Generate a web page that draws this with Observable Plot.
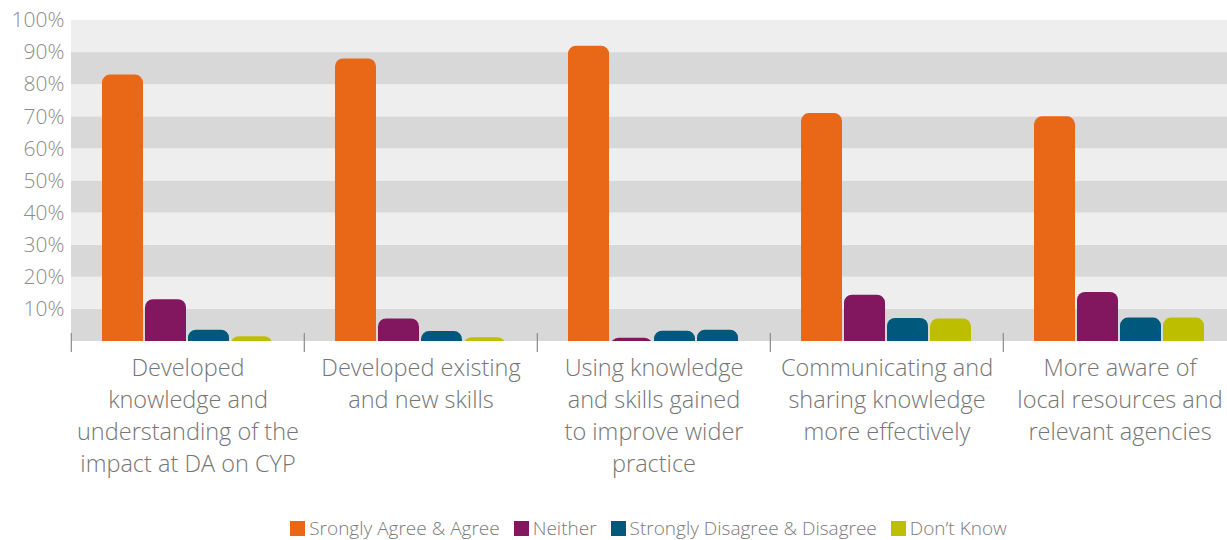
<!DOCTYPE html>
<html>
<head>
<meta charset="utf-8">
<script src="https://cdn.jsdelivr.net/npm/d3@7"></script>
<script src="https://cdn.jsdelivr.net/npm/@observablehq/plot@0.6"></script>
<style>
  html, body { margin: 0; padding: 0; background: #fff; overflow: hidden; }
  body { width: 1227px; height: 540px; font-family: "Open Sans", sans-serif; }
  #legend { display: flex; justify-content: center; gap: 14px; font-size: 19px; color: #7a7a7a; font-weight: 300; margin-left: 70px; margin-top: 15px; }
  #legend span.item { display: flex; align-items: center; }
  #legend i { display: inline-block; width: 15px; height: 15px; margin-right: 4px; }
</style>
</head>
<body>
<div id="chart"></div>
<div id="legend"></div>
<script>
const categories = [
  "Developed knowledge and understanding of the impact at DA on CYP",
  "Developed existing and new skills",
  "Using knowledge and skills gained to improve wider practice",
  "Communicating and sharing knowledge more effectively",
  "More aware of local resources and relevant agencies"
];
const categoryLines = [
  "Developed\nknowledge and\nunderstanding of the\nimpact at DA on CYP",
  "Developed existing\nand new skills",
  "Using knowledge\nand skills gained\nto improve wider\npractice",
  "Communicating and\nsharing knowledge\nmore effectively",
  "More aware of\nlocal resources and\nrelevant agencies"
];
const seriesNames = ["Srongly Agree & Agree", "Neither", "Strongly Disagree & Disagree", "Don’t Know"];
const agree    = [83, 88, 92, 71, 70];
const neither  = [13, 7, 1, 14.4, 15.3];
const disagree = [3.5, 3.1, 3.2, 7.2, 7.3];
const dontKnow = [1.5, 1.2, 3.5, 7, 7.3];
const yTicks = [10, 20, 30, 40, 50, 60, 70, 80, 90, 100];
const bandStarts = [0, 10, 20, 30, 40, 50, 60, 70, 80, 90];

const colors = ["#E96817", "#83175F", "#00587C", "#BDBE00"];
const seriesValues = [agree, neither, disagree, dontKnow];

const data = [];
categories.forEach((c, i) => {
  seriesNames.forEach((s, j) => data.push({category: c, series: s, value: seriesValues[j][i], idx: i}));
});
const bands = bandStarts.map((b, k) => ({y1: b, y2: b + 10, dark: k % 2 === 0}));
const labelOf = new Map(categories.map((c, i) => [c, categoryLines[i]]));
const colorOf = new Map(seriesNames.map((s, j) => [s, colors[j]]));
// In the reference, the "Don't Know" bar of the third group is drawn in the disagree colour
const fillFor = d => (d.idx === 2 && d.series === seriesNames[3]) ? colors[2] : colorOf.get(d.series);

const marginLeft = 70, marginTop = 20, plotBottom = 341;
const height = 500;
const marginBottom = height - plotBottom;
const plotRight = 1237;
const facetW = (plotRight - marginLeft) / categories.length;

const chart = Plot.plot({
  width: 1227,
  height,
  marginLeft,
  marginTop,
  marginBottom,
  marginRight: 1227 - plotRight,
  style: {fontFamily: "'Open Sans', sans-serif", overflow: "visible"},
  fx: {domain: categories, padding: 0, label: null},
  x: {domain: seriesNames, paddingInner: 0.035, paddingOuter: 0.69, axis: null},
  y: {domain: [0, 100], label: null},
  marks: [
    Plot.rectY(bands, {y1: "y1", y2: "y2", fill: d => d.dark ? "#D8D8D8" : "#EEEEEE"}),
    Plot.barY(data, {fx: "category", x: "series", y: "value", fill: fillFor, rx: 8, insetBottom: -10, clip: "frame"}),
    Plot.ruleX([0], {x: null, stroke: "#8a8a8a", strokeWidth: 1.2, dx: -facetW / 2, insetTop: plotBottom - marginTop - 8, insetBottom: -11}),
    Plot.axisY({ticks: yTicks, tickFormat: d => d + "%", tickSize: 0, tickPadding: 7, fontSize: 21, fill: "#8c8c8c", fontWeight: 300, label: null}),
    Plot.axisFx({anchor: "bottom", tickSize: 0, tickPadding: 12, fontSize: 23.5, fill: "#757575", fontWeight: 300, lineHeight: 1.36, tickFormat: d => labelOf.get(d), label: null, textAnchor: "middle"})
  ]
});
document.getElementById("chart").appendChild(chart);

const legend = document.getElementById("legend");
seriesNames.forEach((s, j) => {
  const item = document.createElement("span");
  item.className = "item";
  item.innerHTML = `<i style="background:${colors[j]}"></i>${s}`;
  legend.appendChild(item);
});
</script>
</body>
</html>
